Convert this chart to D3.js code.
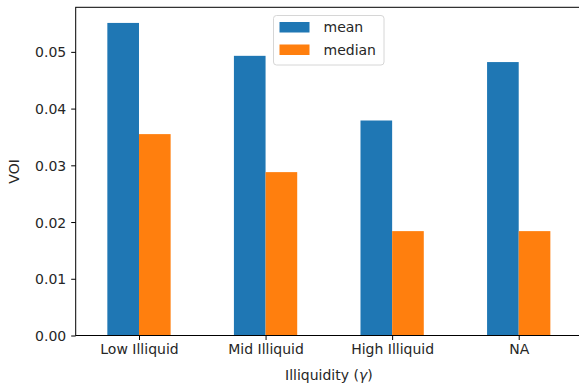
<!DOCTYPE html>
<html>
<head>
<meta charset="utf-8">
<script src="https://cdn.jsdelivr.net/npm/d3@7"></script>
<style>
  html, body { margin: 0; padding: 0; background: #fff; }
  svg text { font-family: "DejaVu Sans", sans-serif; fill: #262626; }
</style>
</head>
<body>
<svg id="fig" width="579" height="385"></svg>
<script>
// data
var categories = ["Low Illiquid", "Mid Illiquid", "High Illiquid", "NA"],
	seriesNames = ["mean", "median"],
	meanValues = [0.0551, 0.0493, 0.0379, 0.0482],
	medianValues = [0.0355, 0.0288, 0.0184, 0.0184],
	yTicks = [0, 0.01, 0.02, 0.03, 0.04, 0.05];

var colors = {mean: "#1f77b4", median: "#ff7f0e"};

// layout
var width = 579,
	height = 385,
	m = [7.3, -3, 49.5, 75.7], // top right bottom left (right spine cut off)
	fs = 14;

var svg = d3.select("#fig");

var xScale = d3.scalePoint()
	.domain(categories)
	.range([m[3], width - m[1]])
	.padding(0.5);

var step = xScale.step(),
	bw = step * 0.25;

var yMax = d3.max(meanValues.concat(medianValues)) * 1.05;
var yScale = d3.scaleLinear()
	.domain([0, yMax])
	.range([height - m[2], m[0]]);

var rows = categories.map(function(c, i) {
	return {cat: c, mean: meanValues[i], median: medianValues[i]};
});

// bars
seriesNames.forEach(function(s, k) {
	svg.append("g")
		.selectAll("rect")
		.data(rows)
		.enter()
		.append("rect")
		.attr("x", d => xScale(d.cat) - bw + k * bw)
		.attr("y", d => yScale(d[s]))
		.attr("width", bw)
		.attr("height", d => yScale(0) - yScale(d[s]))
		.attr("fill", colors[s]);
});

// axes
var xAxis = d3.axisBottom(xScale).tickSize(4.5).tickPadding(4);
var yAxis = d3.axisLeft(yScale).tickValues(yTicks).tickFormat(d3.format(".2f")).tickSize(4.5).tickPadding(5);

var gx = svg.append("g")
	.attr("transform", "translate(0," + yScale(0) + ")")
	.call(xAxis);
var gy = svg.append("g")
	.attr("transform", "translate(" + m[3] + ",0)")
	.call(yAxis);

[gx, gy].forEach(function(g) {
	g.select(".domain").remove();
	g.selectAll(".tick line").attr("stroke", "#000").attr("stroke-width", 1);
	g.selectAll(".tick text")
		.attr("font-size", fs)
		.attr("font-family", "DejaVu Sans")
		.attr("fill", "#262626");
});
gy.selectAll(".tick text").attr("dy", "0.36em");

// spines
var x0 = m[3], x1 = width - m[1], y0 = m[0], y1 = yScale(0);
svg.append("rect")
	.attr("x", x0)
	.attr("y", y0)
	.attr("width", x1 - x0)
	.attr("height", y1 - y0)
	.attr("fill", "none")
	.attr("stroke", "#000")
	.attr("stroke-width", 1);

// axis labels
var xl = svg.append("text")
	.attr("x", (x0 + x1) / 2)
	.attr("y", 380)
	.attr("text-anchor", "middle")
	.attr("font-size", fs);
xl.append("tspan").text("Illiquidity (");
xl.append("tspan").attr("font-style", "italic").text("γ");
xl.append("tspan").text(")");

svg.append("text")
	.attr("transform", "translate(19," + ((y0 + y1) / 2) + ") rotate(-90)")
	.attr("text-anchor", "middle")
	.attr("font-size", fs)
	.text("VOI");

// legend
var legend = svg.append("g").attr("transform", "translate(273.5,15.5)");
legend.append("rect")
	.attr("width", 110.5)
	.attr("height", 49.5)
	.attr("rx", 3)
	.attr("fill", "#fff")
	.attr("fill-opacity", 0.8)
	.attr("stroke", "#d6d6d6")
	.attr("stroke-width", 1);

var items = legend.selectAll("g.item")
	.data(seriesNames)
	.enter()
	.append("g")
	.attr("class", "item")
	.attr("transform", (d, i) => "translate(6," + (6.5 + i * 22.5) + ")");
items.append("rect")
	.attr("width", 30)
	.attr("height", 10.5)
	.attr("fill", d => colors[d]);
items.append("text")
	.attr("x", 44)
	.attr("y", 10)
	.attr("font-size", fs)
	.text(d => d);
</script>
</body>
</html>
